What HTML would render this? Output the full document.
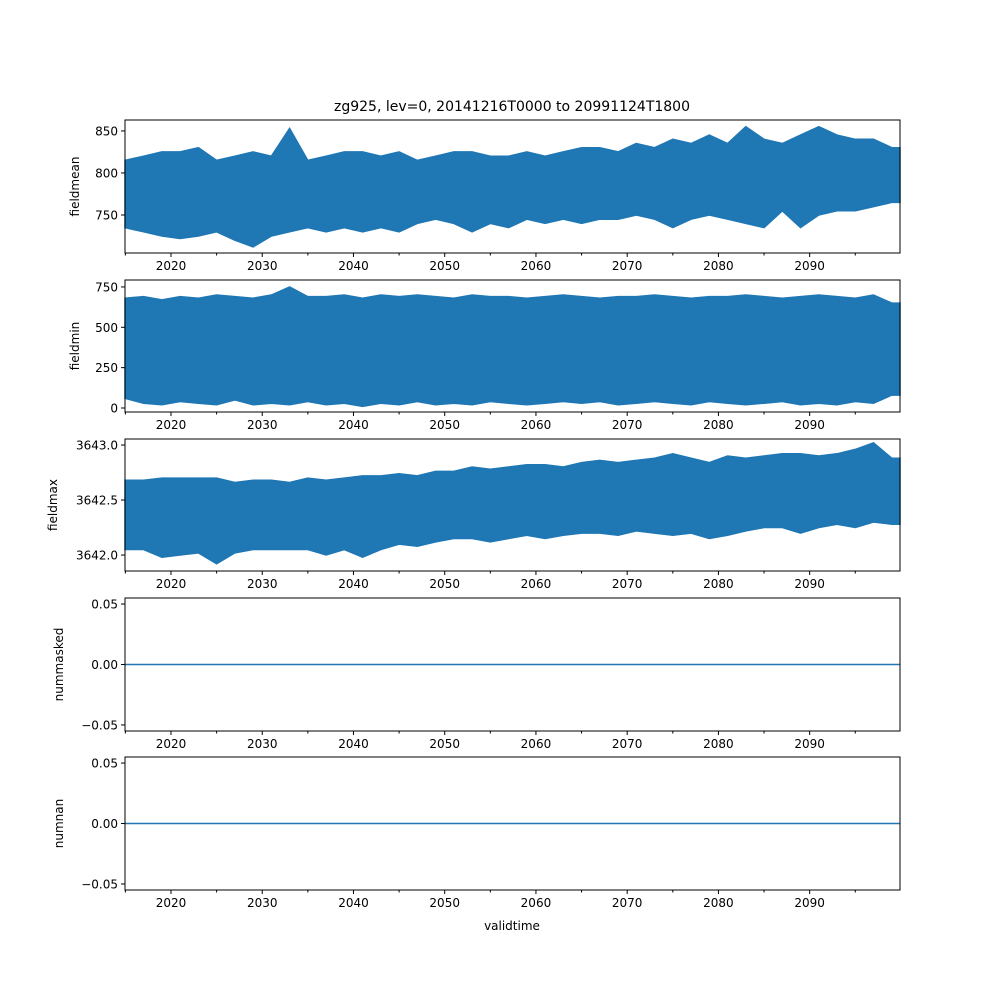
<!DOCTYPE html>
<html><head><meta charset="utf-8"><style>
body{margin:0;background:#fff}
svg{display:block;font-family:"DejaVu Sans","Liberation Sans",sans-serif}
</style></head><body>
<svg id="chart" width="1000" height="1000" viewBox="0 0 1000 1000">
<rect width="1000" height="1000" fill="#fff"/>
<text x="512" y="111" text-anchor="middle" font-size="14">zg925, lev=0, 20141216T0000 to 20991124T1800</text>
</svg>
<script>
const years = [];
for (let y = 2015; y <= 2099; y += 2) years.push(y);
const meanHigh = [815,820,825,825,830,815,820,825,820,853,815,820,825,825,820,825,815,820,825,825,820,820,825,820,825,830,830,825,835,830,840,835,845,835,855,840,835,845,855,845,840,840,830];
const meanLow = [735,730,725,722,725,730,720,712,725,730,735,730,735,730,735,730,740,745,740,730,740,735,745,740,745,740,745,745,750,745,735,745,750,745,740,735,755,735,750,755,755,760,765];
const minHigh = [680,690,670,690,680,700,690,680,700,750,690,690,700,680,700,690,700,690,680,700,690,690,680,690,700,690,680,690,690,700,690,680,690,690,700,690,680,690,700,690,680,700,650];
const minLow = [60,30,20,40,30,20,50,20,30,20,40,20,30,10,30,20,40,20,30,20,40,30,20,30,40,30,40,20,30,40,30,20,40,30,20,30,40,20,30,20,40,30,80];
const maxHigh = [3642.68,3642.68,3642.7,3642.7,3642.7,3642.7,3642.66,3642.68,3642.68,3642.66,3642.7,3642.68,3642.7,3642.72,3642.72,3642.74,3642.72,3642.76,3642.76,3642.8,3642.78,3642.8,3642.82,3642.82,3642.8,3642.84,3642.86,3642.84,3642.86,3642.88,3642.92,3642.88,3642.84,3642.9,3642.88,3642.9,3642.92,3642.92,3642.9,3642.92,3642.96,3643.02,3642.88];
const maxLow = [3642.05,3642.05,3641.98,3642.0,3642.02,3641.92,3642.02,3642.05,3642.05,3642.05,3642.05,3642.0,3642.05,3641.98,3642.05,3642.1,3642.08,3642.12,3642.15,3642.15,3642.12,3642.15,3642.18,3642.15,3642.18,3642.2,3642.2,3642.18,3642.22,3642.2,3642.18,3642.2,3642.15,3642.18,3642.22,3642.25,3642.25,3642.2,3642.25,3642.28,3642.25,3642.3,3642.28];
const maskedVals = [0,0];
const nanVals = [0,0];
const xTickLabels = [2020,2030,2040,2050,2060,2070,2080,2090];

const svg = document.getElementById('chart');
const NS = 'http://www.w3.org/2000/svg';
const X0 = 125, X1 = 900, T0 = 2014.96, T1 = 2099.9;
const BLUE = '#1f77b4';
function sx(t){ return X0 + (t - T0) / (T1 - T0) * (X1 - X0); }
function mk(tag, attrs){ const e = document.createElementNS(NS, tag); for (const k in attrs) e.setAttribute(k, attrs[k]); svg.appendChild(e); return e; }

const panels = [
  {name:'fieldmean', top:120, bot:253, ymin:704.8, ymax:863, ticks:[750,800,850], labels:['750','800','850'], hi:meanHigh, lo:meanLow, lx:79},
  {name:'fieldmin', top:280, bot:412, ymin:-24.8, ymax:793, ticks:[0,250,500,750], labels:['0','250','500','750'], hi:minHigh, lo:minLow, lx:79},
  {name:'fieldmax', top:439, bot:571, ymin:3641.855, ymax:3643.055, ticks:[3642.0,3642.5,3643.0], labels:['3642.0','3642.5','3643.0'], hi:maxHigh, lo:maxLow, lx:57},
  {name:'nummasked', top:598, bot:731, ymin:-0.055, ymax:0.055, ticks:[-0.05,0,0.05], labels:['\u22120.05','0.00','0.05'], flat:maskedVals, lx:63},
  {name:'numnan', top:757, bot:890, ymin:-0.055, ymax:0.055, ticks:[-0.05,0,0.05], labels:['\u22120.05','0.00','0.05'], flat:nanVals, lx:63},
];

panels.forEach(p => {
  const sy = v => p.bot - (v - p.ymin) / (p.ymax - p.ymin) * (p.bot - p.top);
  if (p.hi) {
    let d = '';
    years.forEach((y,i) => { d += (i ? 'L' : 'M') + sx(y === 2015 ? T0 : y).toFixed(1) + ',' + sy(p.hi[i]).toFixed(1); });
    d += 'L' + X1 + ',' + sy(p.hi[p.hi.length-1]).toFixed(1) + 'L' + X1 + ',' + sy(p.lo[p.lo.length-1]).toFixed(1);
    for (let i = years.length - 1; i >= 0; i--) d += 'L' + sx(years[i] === 2015 ? T0 : years[i]).toFixed(1) + ',' + sy(p.lo[i]).toFixed(1);
    d += 'Z';
    const band = mk('path', {d: d, fill: BLUE, stroke: BLUE, 'stroke-width': 1.5, 'stroke-linejoin': 'miter'});
    
    
  } else {
    const ln = mk('line', {x1: X0, x2: X1, y1: sy(p.flat[0]), y2: sy(p.flat[1]), stroke: BLUE, 'stroke-width': 1.5});
    
    
  }
  const frame = mk('rect', {x: X0, y: p.top, width: X1 - X0, height: p.bot - p.top, fill: 'none', stroke: '#000', 'stroke-width': 1});
  
  
  p.ticks.forEach((t, i) => {
    const y = sy(t);
    mk('line', {x1: X0 - 4, x2: X0, y1: y, y2: y, stroke: '#000'});
    const tx = mk('text', {x: X0 - 7, y: y + 4.5, 'text-anchor': 'end', 'font-size': 12});
    tx.textContent = p.labels[i];
    
    
  });
  for (let yr = 2015; yr <= 2095; yr += 5) {
    const major = yr % 10 === 0;
    mk('line', {x1: sx(yr), x2: sx(yr), y1: p.bot, y2: p.bot + (major ? 4 : 2.5), stroke: '#000'});
  }
  xTickLabels.forEach(yr => {
    const tx = mk('text', {x: sx(yr), y: p.bot + 17, 'text-anchor': 'middle', 'font-size': 12});
    tx.textContent = yr;
    
    
  });
  const cy = (p.top + p.bot) / 2;
  const yl = mk('text', {x: p.lx, y: cy, 'text-anchor': 'middle', 'font-size': 12, transform: 'rotate(-90 ' + p.lx + ' ' + cy + ')'});
  yl.textContent = p.name;
  
  
});
const xl = mk('text', {x: 512, y: 930, 'text-anchor': 'middle', 'font-size': 12});
xl.textContent = 'validtime';


</script>
</body></html>
